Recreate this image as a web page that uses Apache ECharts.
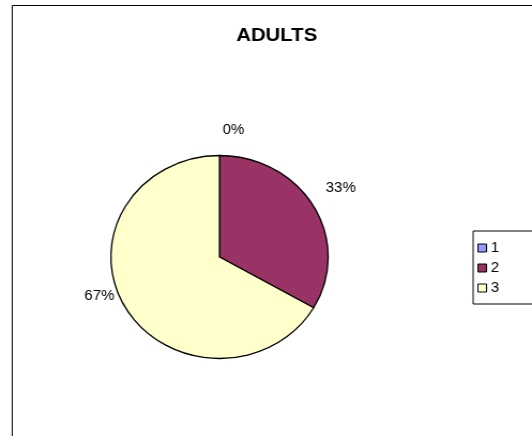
<!DOCTYPE html>
<html>
<head>
<meta charset="utf-8">
<script src="https://cdn.jsdelivr.net/npm/echarts@6/dist/echarts.min.js"></script>
<style>
  html, body { margin: 0; padding: 0; background: #fff; overflow: hidden; }
  /* the chart is drawn slightly narrow and widened, giving the oval pie */
  #chart { width: 497px; height: 436px; transform: scaleX(1.0704); transform-origin: 0 0; }
</style>
</head>
<body>
<div id="chart"></div>
<script>
// Group names and counts for the ADULTS breakdown
const categories = ['1', '2', '3'];
const counts = [0, 1, 2];
const sliceColors = ['#9999FF', '#993366', '#FFFFCC'];

// Nudges so each percentage sits just outside its slice
const labelOffsets = [[13, -5], [8, -8], [-7, -22]];

const total = counts.reduce((a, b) => a + b, 0);
const font = 'Liberation Sans, Arial, sans-serif';

const chart = echarts.init(document.getElementById('chart'), null, { renderer: 'canvas' });

chart.setOption({
  animation: false,
  backgroundColor: '#ffffff',
  textStyle: { fontFamily: font },
  graphic: [{
    type: 'rect',
    shape: { x: 11.4, y: 5.5, width: 700, height: 600 },
    style: { fill: 'none', stroke: '#000', lineWidth: 1 },
    silent: true
  }],
  title: {
    text: 'ADULTS',
    left: 253.5,
    top: 21,
    textAlign: 'center',
    textStyle: { fontSize: 19, fontWeight: 'bold', color: '#000', fontFamily: font }
  },
  legend: {
    orient: 'vertical',
    left: 442,
    top: 231,
    data: categories,
    itemWidth: 8,
    itemHeight: 8,
    itemGap: 6,
    padding: [10, 60, 9, 4],
    borderColor: '#000',
    borderWidth: 1,
    icon: 'rect',
    itemStyle: { borderColor: '#000', borderWidth: 1 },
    textStyle: { fontSize: 14, color: '#000', padding: [0, 0, 0, -1] }
  },
  series: [{
    type: 'pie',
    center: [205.1, 257],
    radius: 101.5,
    startAngle: 90,
    clockwise: true,
    avoidLabelOverlap: false,
    stillShowZeroSum: true,
    itemStyle: { borderColor: '#000', borderWidth: 1.3 },
    label: {
      show: true,
      position: 'outside',
      fontSize: 14,
      color: '#000',
      distanceToLabelLine: 0,
      formatter: p => Math.round(p.value / total * 100) + '%'
    },
    labelLine: { show: false, length: 20, length2: 0 },
    labelLayout: () => ({ align: 'center' }),
    emphasis: { disabled: true },
    data: categories.map((name, i) => ({
      name,
      value: counts[i],
      itemStyle: { color: sliceColors[i] },
      label: { offset: labelOffsets[i] }
    }))
  }]
});
</script>
</body>
</html>
